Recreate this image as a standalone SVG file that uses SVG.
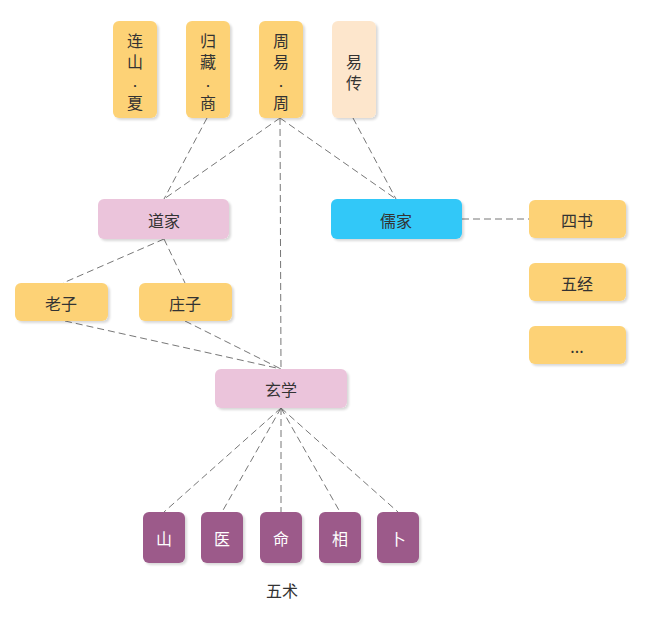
<svg xmlns="http://www.w3.org/2000/svg" width="648" height="620" viewBox="0 0 648 620">
<defs>
<filter id="sh" x="-20%" y="-20%" width="150%" height="150%">
<feDropShadow dx="2" dy="2" stdDeviation="1" flood-color="#000" flood-opacity="0.15"/>
</filter>
</defs>
<style>
text{font-family:"Noto Sans CJK SC","Noto Sans",sans-serif;font-size:16px;fill:#333;text-anchor:middle;dominant-baseline:central}
tspan.d{font-size:10px}
.n rect{filter:url(#sh)}
.y{fill:#FDD276}
.p{fill:#FDE6CC}
.k{fill:#EBC4DB}
.b{fill:#30C8F8}
.m{fill:#9C5A8A}
.w{fill:#fff}
.c line{stroke:#777;stroke-width:1;stroke-dasharray:7 4;fill:none}
</style>
<rect width="648" height="620" fill="#fff"/>
<g id="connectors" class="c">
<line x1="207" y1="118" x2="164" y2="199"/>
<line x1="280" y1="118" x2="164" y2="199"/>
<line x1="280" y1="118" x2="281" y2="369"/>
<line x1="280" y1="118" x2="396" y2="199"/>
<line x1="353" y1="118" x2="396" y2="199"/>
<line x1="462" y1="219" x2="529" y2="219"/>
<line x1="164" y1="239" x2="63" y2="283"/>
<line x1="164" y1="239" x2="185" y2="283"/>
<line x1="65" y1="321" x2="281" y2="369"/>
<line x1="185" y1="321" x2="281" y2="369"/>
<line x1="281" y1="408" x2="164" y2="512"/>
<line x1="281" y1="408" x2="222" y2="512"/>
<line x1="281" y1="408" x2="281" y2="512"/>
<line x1="281" y1="408" x2="340" y2="512"/>
<line x1="281" y1="408" x2="398" y2="512"/>
</g>
<g id="lianshan" class="n"><rect class="y" x="113" y="21" width="44" height="97" rx="6"/><text><tspan x="135" y="40">连</tspan><tspan x="135" y="61">山</tspan><tspan class="d" x="135" y="85">·</tspan><tspan x="135" y="102">夏</tspan></text></g>
<g id="guicang" class="n"><rect class="y" x="186" y="21" width="44" height="97" rx="6"/><text><tspan x="208" y="40">归</tspan><tspan x="208" y="61">藏</tspan><tspan class="d" x="208" y="85">·</tspan><tspan x="208" y="102">商</tspan></text></g>
<g id="zhouyi" class="n"><rect class="y" x="259" y="21" width="44" height="97" rx="6"/><text><tspan x="281" y="40">周</tspan><tspan x="281" y="61">易</tspan><tspan class="d" x="281" y="85">·</tspan><tspan x="281" y="102">周</tspan></text></g>
<g id="yizhuan" class="n"><rect class="p" x="332" y="21" width="44" height="97" rx="6"/><text><tspan x="354" y="61">易</tspan><tspan x="354" y="82">传</tspan></text></g>
<g id="daojia" class="n"><rect class="k" x="98" y="199" width="131" height="40" rx="6"/><text x="164" y="220">道家</text></g>
<g id="rujia" class="n"><rect class="b" x="331" y="199" width="131" height="40" rx="6"/><text x="396" y="220">儒家</text></g>
<g id="sishu" class="n"><rect class="y" x="529" y="200" width="97" height="38" rx="6"/><text x="577" y="220">四书</text></g>
<g id="wujing" class="n"><rect class="y" x="529" y="263" width="97" height="38" rx="6"/><text x="577" y="283">五经</text></g>
<g id="etc" class="n"><rect class="y" x="529" y="326" width="97" height="38" rx="6"/><text x="577" y="346">...</text></g>
<g id="laozi" class="n"><rect class="y" x="15" y="283" width="93" height="38" rx="6"/><text x="61" y="303">老子</text></g>
<g id="zhuangzi" class="n"><rect class="y" x="139" y="283" width="93" height="38" rx="6"/><text x="185" y="303">庄子</text></g>
<g id="xuanxue" class="n"><rect class="k" x="215" y="369" width="132" height="39" rx="6"/><text x="281" y="389">玄学</text></g>
<g id="shan" class="n"><rect class="m" x="143" y="512" width="42" height="51" rx="6"/><text class="w" x="164" y="538">山</text></g>
<g id="yi" class="n"><rect class="m" x="201" y="512" width="42" height="51" rx="6"/><text class="w" x="222" y="538">医</text></g>
<g id="ming" class="n"><rect class="m" x="260" y="512" width="42" height="51" rx="6"/><text class="w" x="281" y="538">命</text></g>
<g id="xiang" class="n"><rect class="m" x="319" y="512" width="42" height="51" rx="6"/><text class="w" x="340" y="538">相</text></g>
<g id="bu" class="n"><rect class="m" x="377" y="512" width="42" height="51" rx="6"/><text class="w" x="398" y="538">卜</text></g>
<text x="282" y="590">五术</text>
</svg>
